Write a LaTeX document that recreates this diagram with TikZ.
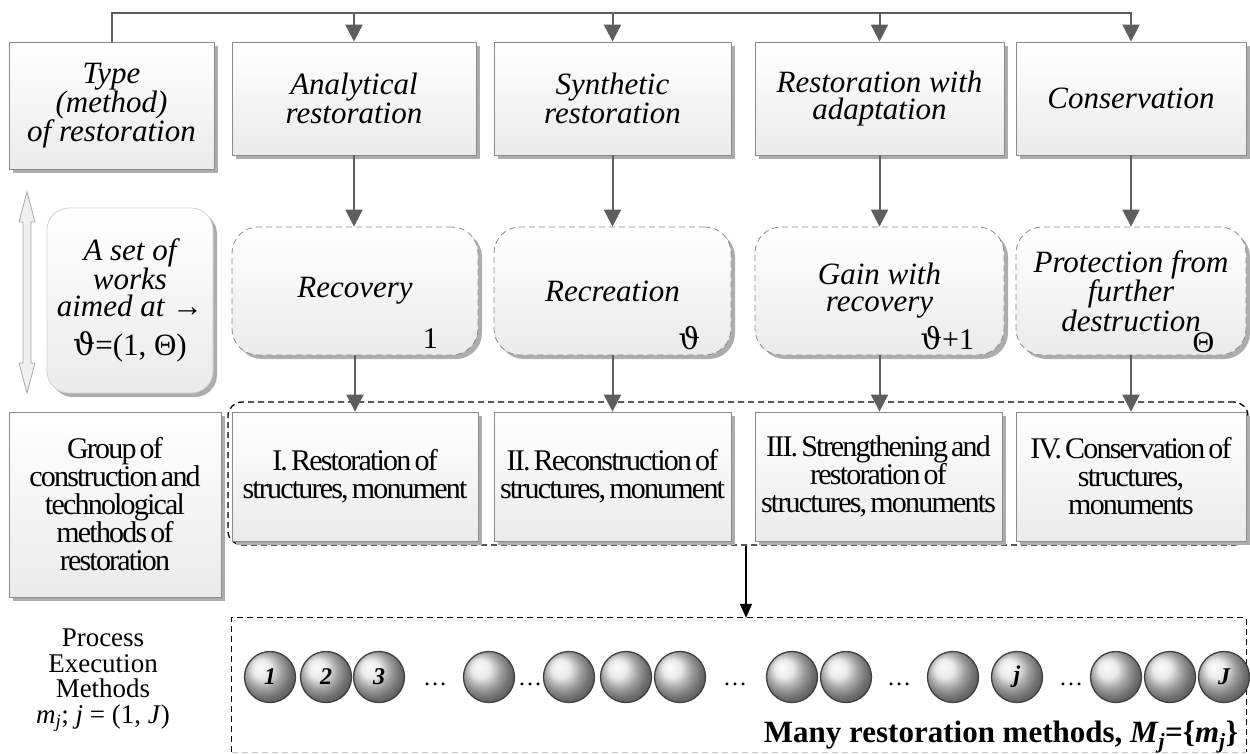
\documentclass[tikz,border=0pt]{standalone}
\usepackage{fontspec}
\setmainfont{Liberation Serif}
\newfontfamily\tightserif[LetterSpace=-6,WordSpace=0.55]{Liberation Serif}
\newfontfamily\greekfont{DejaVu Serif}
\usetikzlibrary{arrows.meta}
\usetikzlibrary{shadows}
\usetikzlibrary{calc}
\definecolor{linkgray}{HTML}{5E5E5E}
\definecolor{edgegray}{HTML}{8A8A8A}

\begin{document}
\begin{tikzpicture}[x=1pt,y=-1pt,
  font=\itshape\fontsize{31}{27}\selectfont,
  box/.style={draw=edgegray,line width=0.8pt,top color=white,bottom color=gray!16,
    drop shadow={shadow xshift=4pt,shadow yshift=-4pt,fill=black!32,opacity=1},
    align=center,inner sep=0pt,minimum height=113},
  dashbox/.style={box,rounded corners=26pt,dash pattern=on 6pt off 4pt,minimum height=128},
  setbox/.style={box,rounded corners=22pt,draw=gray!35,minimum width=166,minimum height=185},
  grpbox/.style={box,font=\tightserif\fontsize{30}{28}\selectfont,minimum height=129},
  outline/.style={draw,line width=1.3pt,dash pattern=on 6pt off 4pt},
  link/.style={draw=linkgray,line width=2pt,-{Triangle[length=17pt,width=17pt]}},
  feed/.style={line width=1.3pt,-{Triangle[length=14pt,width=12pt]}},
  tag/.style={font=\upshape\fontsize{30}{30}\selectfont,inner sep=0pt},
  ball/.style={circle,minimum size=51,inner sep=0pt,ball color=gray!22,draw=black!75,
    line width=1.3pt,font=\bfseries\itshape\fontsize{24}{24}\selectfont},
  dots/.style={font=\upshape\fontsize{24}{24}\selectfont,inner sep=0pt}]
\useasboundingbox (0,0) rectangle (1250,753);

\node[box,minimum width=205,minimum height=127] (typ) at (111.5,105.5) {Type\\(method)\\of restoration};
\node[box,minimum width=244] (ana) at (354,98.5) {Analytical\\restoration};
\node[box,minimum width=237] (syn) at (612.5,98.5) {Synthetic\\restoration};
\node[box,minimum width=249] (adp) at (879.5,98.5) {Restoration with\\adaptation};
\node[box,minimum width=230] (con) at (1131,98.5) {Conservation};

\coordinate (bus) at (0,13);
\draw[link] (typ.north) -- (typ.north |- bus) -| (con.north);
\foreach \n in {ana,syn,adp}
  \draw[link] (\n.north |- bus) -- (\n.north);

\filldraw[fill=gray!12,draw=gray!70,line width=0.8pt] (27,192) -- (35,222) -- (31,222) -- (31,363) -- (35,363)
  -- (27,393) -- (19,363) -- (23,363) -- (23,222) -- (19,222) -- cycle;
\node[setbox] (set) at (130,300.5) {A set of\\works\\aimed at →\\[12pt]{\upshape{\greekfont ϑ}=(1, Θ)}};

\node[dashbox,minimum width=246] (rec) at (355,291) {Recovery};
\node[dashbox,minimum width=237] (rcr) at (612.5,291) {Recreation};
\node[dashbox,minimum width=249] (gain) at (879.5,291) {Gain with\\recovery};
\node[dashbox,minimum width=230] (prot) at (1131,291) {Protection from\\further\\destruction};

\node[tag] (t1) at ([shift={(-48,-17)}]rec.south east) {1};
\node[tag] (t2) at ([shift={(-42,-17)}]rcr.south east) {{\greekfont ϑ}};
\node[tag] (t3) at ([shift={(-57,-17)}]gain.south east) {{\greekfont ϑ}+1};
\node[tag] (t4) at ([shift={(-43,-13)}]prot.south east) {Θ};

\foreach \a/\b in {ana/rec,syn/rcr,adp/gain,con/prot}
  \draw[link] (\a.south) -- (\a.south |- \b.north);

\node[outline,rounded corners=14pt,inner sep=0pt,minimum width=1020,minimum height=143] (frm) at (738,473.5) {};
\node[grpbox,minimum width=212,minimum height=185] (grp) at (115,504.5) {Group of\\construction and\\technological\\methods of\\restoration};
\node[grpbox,minimum width=246] (g1) at (355,476.5) {I. Restoration of\\structures, monument};
\node[grpbox,minimum width=237] (g2) at (612.5,476.5) {II. Reconstruction of\\structures, monument};
\node[grpbox,minimum width=247] (g3) at (878.5,476.5) {III. Strengthening and\\restoration of\\structures, monuments};
\node[grpbox,minimum width=230] (g4) at (1131,476.5) {IV. Conservation of\\structures,\\monuments};

\foreach \a/\b in {rec/g1,rcr/g2,gain/g3,prot/g4}
  \draw[link] (\a.south) -- (\a.south |- \b.north);

\node[align=center,inner sep=0pt,font=\upshape\fontsize{27}{25.5}\selectfont] (proc) at (103,680)
  {Process\\Execution\\Methods\\\textit{m}\textsubscript{\textit{j}}; \textit{j} = (1, \textit{J})};

\node[inner sep=0pt,minimum width=1014,minimum height=134] (many) at (739,685) {};
\draw[outline] (many.south west) -- (many.north west) -- (many.north east) -- (many.south east);
\draw[outline,draw=gray!45] (many.south west) -- (many.south east);
\draw[feed] ([xshift=8pt]frm.south) -- ([xshift=7pt]many.north);

\foreach \x/\t [count=\i] in {270/1,326/2,379/3,489/{},569/{},626/{},680/{},792/{},846/{},953/{},1017/j,1116/{},1170/{},1224/J}
  \node[ball] (b\i) at (\x,677) {\t};
\foreach \x [count=\i] in {435,530,735,899,1071}
  \node[dots] (d\i) at (\x,684) {…};

\node[anchor=base east,inner sep=0pt,font=\upshape\bfseries\fontsize{31}{31}\selectfont] (mlab) at ([shift={(-8,-10)}]many.south east)
  {Many restoration methods, \textit{M}\textsubscript{\textit{j}}=\{\textit{m}\textsubscript{\textit{j}}\}};
\end{tikzpicture}
\end{document}
